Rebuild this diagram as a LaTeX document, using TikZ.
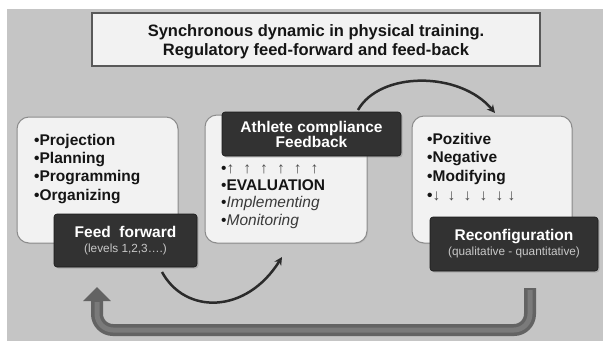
\documentclass[tikz,border=0pt]{standalone}
\usepackage{fontspec}
\setmainfont{Liberation Sans}
\usetikzlibrary{arrows.meta,shadows}
\definecolor{bggray}{HTML}{C5C5C5}
\definecolor{boxfill}{HTML}{F2F2F2}
\definecolor{boxline}{HTML}{8C8C8C}
\definecolor{darkfill}{HTML}{323232}
\definecolor{subtext}{HTML}{C8C8C8}
\definecolor{inktext}{HTML}{151515}
\definecolor{italtext}{HTML}{3A3A3A}
\definecolor{arcink}{HTML}{2B2B2B}
\definecolor{tube}{HTML}{636363}
\definecolor{tubelight}{HTML}{7A7A7A}
\newcommand\subtxt{\mdseries\fontsize{11.8}{15}\selectfont\color{subtext}}
\begin{document}
\begin{tikzpicture}[x=1pt,y=-1pt,
  titlebox/.style={draw=black!65,line width=1.5pt,fill=boxfill,inner sep=0pt},
  lightbox/.style={draw=boxline,line width=1pt,fill=boxfill,rounded corners=12pt,inner sep=0pt,
    drop shadow={opacity=0.2,shadow xshift=1pt,shadow yshift=-1pt}},
  darkbox/.style={draw=black!90,line width=0.6pt,fill=darkfill,rounded corners=3pt,inner sep=0pt,
    text=white,align=center,font=\bfseries\fontsize{15.5}{15}\selectfont,
    drop shadow={opacity=0.35,shadow xshift=1.5pt,shadow yshift=-1.5pt}},
  listtext/.style={anchor=north west,inner sep=0pt,align=left,text=inktext},
  arcarrow/.style={draw=arcink,line width=2.5pt,-{Stealth[length=8pt,width=8pt]}}
]
\useasboundingbox (0,0) rectangle (603,341);
\fill[white] (0,0) rectangle (603,341);
\fill[bggray] (7,9) rectangle (603,341);

% title
\node[titlebox,minimum width=448pt,minimum height=53pt] (title) at (316,39.5) {};
\node[inner sep=0pt,align=center,text=inktext,font=\bfseries\fontsize{16.5}{19.5}\selectfont] (titletext) at (316,42)
  {Synchronous dynamic in physical training.\\Regulatory feed-forward and feed-back};

% light boxes
\node[lightbox,minimum width=161pt,minimum height=126pt] (left) at (97.5,180) {};
\node[lightbox,minimum width=162pt,minimum height=128pt] (mid) at (286,179) {};
\node[lightbox,minimum width=160pt,minimum height=127pt] (right) at (492,179.5) {};

% left list
\node[listtext,font=\bfseries\fontsize{15.5}{18.3}\selectfont] (leftlist) at (34,145-12.81)
  {\strut•Projection\\•Planning\\•Programming\\•Organizing};

% middle list
\node[listtext,font=\fontsize{15.5}{17.3}\selectfont] (midlist) at (221,173-12.11)
  {\strut•{\color{black!70}\makebox[16.8pt][l]{↑}\makebox[16.8pt][l]{↑}\makebox[16.8pt][l]{↑}\makebox[16.8pt][l]{↑}\makebox[16.8pt][l]{↑}↑}\\
   •\textbf{EVALUATION}\\
   •{\color{italtext}\itshape Implementing}\\
   •{\color{italtext}\itshape Monitoring}};

% right list
\node[listtext,font=\bfseries\fontsize{15.5}{18.7}\selectfont] (rightlist) at (427,144-13.09)
  {\strut•Pozitive\\•Negative\\•Modifying\\
   •{\mdseries\color{black!70}\makebox[15pt][l]{↓}\makebox[16pt][l]{↓}\makebox[16pt][l]{↓}\makebox[16pt][l]{↓}\makebox[12pt][l]{↓}↓}};

% dark boxes
\node[darkbox,minimum width=143pt,minimum height=53pt] (feed) at (125.5,240.5)
  {Feed\ \ forward\\{\subtxt (levels 1,2,3….)}};
\node[darkbox,minimum width=179pt,minimum height=44pt] (ath) at (311.5,134)
  {Athlete compliance\\Feedback};
\node[darkbox,minimum width=168pt,minimum height=54pt] (reconf) at (514,244)
  {Reconfiguration\\{\subtxt (qualitative - quantitative)}};

% curved arrows
\coordinate (t1) at (358,110);
\coordinate (t2) at (495,113);
\draw[arcarrow] (t1) .. controls (380,71) and (460,71) .. (t2);
\coordinate (b1) at (162,272);
\coordinate (b2) at (282,257);
\draw[arcarrow] (b1) .. controls (185,314.5) and (246,314.5) .. (b2);

% feedback loop tube
\coordinate (u1) at (530,288);
\coordinate (u2) at (97,287);
\draw[tube,line width=12pt,rounded corners=16pt,-{Triangle[width=27pt,length=14pt]}]
  (u1) -- (u1 |- 0,330) -- (u2 |- 0,330) -- (u2);
\draw[tubelight,line width=5pt,rounded corners=16pt]
  (530,290) -- (530,330) -- (97,330) -- (97,302);
\end{tikzpicture}
\end{document}
